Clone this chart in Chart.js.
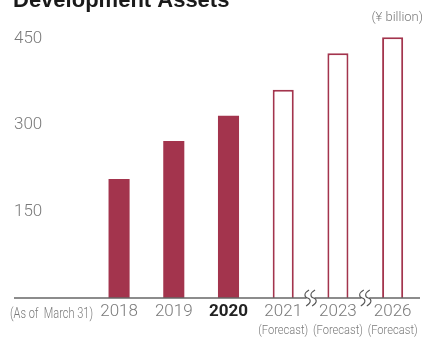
<!DOCTYPE html>
<html>
<head>
<meta charset="utf-8">
<script src="https://cdn.jsdelivr.net/npm/chart.js@4"></script>
<style>
  html, body { margin: 0; padding: 0; background: #fff; }
  #wrap { width: 424px; height: 338px; position: relative; }
</style>
</head>
<body>
<div id="wrap"><canvas id="c" width="424" height="338"></canvas></div>
<script>
// data
const categories = ['', '2018', '2019', '2020', '2021', '2023', '2026'];
const actualValues = [null, 206, 272, 316, null, null, null];
const forecastValues = [null, null, null, null, 361, 424, 452];
const forecastFlags = [false, false, false, false, true, true, true];
const yTicks = [150, 300, 450];
const title = 'Development Assets';
const unitLabel = '(\u00a5 billion)';
const asOfLabel = '(As of  March 31)';
const forecastLabel = '(Forecast)';
const breakAfter = ['2021', '2023']; // axis break drawn after these

const barColor = '#a3344d';
const textGray = '#7a7a7a';
const fontFam = 'Roboto, "Liberation Sans", Arial, sans-serif';

// extras: title, unit, baseline, axis breaks, sub labels
const decorations = {
    id: 'decorations',
    afterDraw(chart) {
        const { ctx, chartArea, scales } = chart;
        const x = scales.x, y = scales.y;
        const base = y.getPixelForValue(0);
        ctx.save();

        // title (cut off at the top like the original)
        ctx.fillStyle = '#1a1a1a';
        ctx.font = 'bold 22px "Liberation Sans", Arial, sans-serif';
        ctx.textBaseline = 'alphabetic';
        ctx.textAlign = 'left';
        ctx.fillText(title, 13, 7);

        // unit
        ctx.fillStyle = textGray;
        ctx.font = '300 13px ' + fontFam;
        ctx.textAlign = 'right';
        ctx.textBaseline = 'middle';
        ctx.fillText(unitLabel, 423, 18);

        // baseline
        ctx.strokeStyle = '#666';
        ctx.lineWidth = 1.3;
        ctx.beginPath();
        ctx.moveTo(14, base);
        ctx.lineTo(chartArea.right, base);
        ctx.stroke();

        // axis breaks
        breakAfter.forEach(cat => {
            const i = categories.indexOf(cat);
            const mid = (x.getPixelForValue(i) + x.getPixelForValue(i + 1)) / 2;
            ctx.fillStyle = '#fff';
            ctx.fillRect(mid - 4, base - 2, 8, 4);
            ctx.strokeStyle = '#555';
            ctx.lineWidth = 1.1;
            [-3, 3].forEach(dx => {
                const cx = mid + dx;
                ctx.beginPath();
                ctx.moveTo(cx + 1.5, base - 8);
                ctx.bezierCurveTo(cx - 4, base - 5, cx - 3.5, base - 1, cx, base);
                ctx.bezierCurveTo(cx + 3.5, base + 1, cx + 4, base + 5, cx - 1.5, base + 8);
                ctx.stroke();
            });
        });

        // sub labels (squeezed like the narrow type in the original)
        ctx.fillStyle = textGray;
        ctx.textAlign = 'center';
        ctx.textBaseline = 'middle';
        ctx.font = '300 15px ' + fontFam;
        ctx.fillText(asOfLabel, 51.5, 314, 83);
        ctx.font = '300 13.5px ' + fontFam;
        forecastFlags.forEach((f, i) => {
            if (f) ctx.fillText(forecastLabel, x.getPixelForValue(i), 331, 50);
        });
        ctx.restore();
    }
};

new Chart(document.getElementById('c'), {
    type: 'bar',
    data: {
        labels: categories,
        datasets: [
            {
                data: actualValues,
                backgroundColor: barColor,
                borderWidth: 0,
                categoryPercentage: 1,
                barPercentage: 0.385,
                skipNull: true
            },
            {
                data: forecastValues,
                backgroundColor: '#fff',
                borderColor: barColor,
                borderWidth: 2,
                categoryPercentage: 1,
                barPercentage: 0.385,
                skipNull: true
            }
        ]
    },
    options: {
        responsive: false,
        animation: false,
        devicePixelRatio: 1,
        layout: { padding: { left: 14, right: 4, top: 21, bottom: 0 } },
        plugins: { legend: { display: false }, tooltip: { enabled: false } },
        scales: {
            x: {
                stacked: true,
                grid: { display: false, drawTicks: false },
                border: { display: false },
                afterFit(scale) { scale.height = 40; },
                ticks: {
                    padding: 4,
                    autoSkip: false,
                    maxRotation: 0,
                    color: ctx => ctx.tick && ctx.tick.label === '2020' ? '#222' : textGray,
                    font: ctx => ({
                        family: fontFam,
                        size: 17,
                        weight: ctx.tick && ctx.tick.label === '2020' ? 'bold' : '300'
                    })
                }
            },
            y: {
                stacked: true,
                min: 0,
                max: 480,
                grid: { display: false, drawTicks: false },
                border: { display: false },
                afterFit(scale) { scale.width = 23; },
                afterBuildTicks(scale) { scale.ticks = yTicks.map(v => ({ value: v })); },
                ticks: {
                    mirror: true,
                    padding: -23,
                    color: textGray,
                    font: { family: fontFam, size: 17, weight: '300' }
                }
            }
        }
    },
    plugins: [decorations]
});
</script>
</body>
</html>
